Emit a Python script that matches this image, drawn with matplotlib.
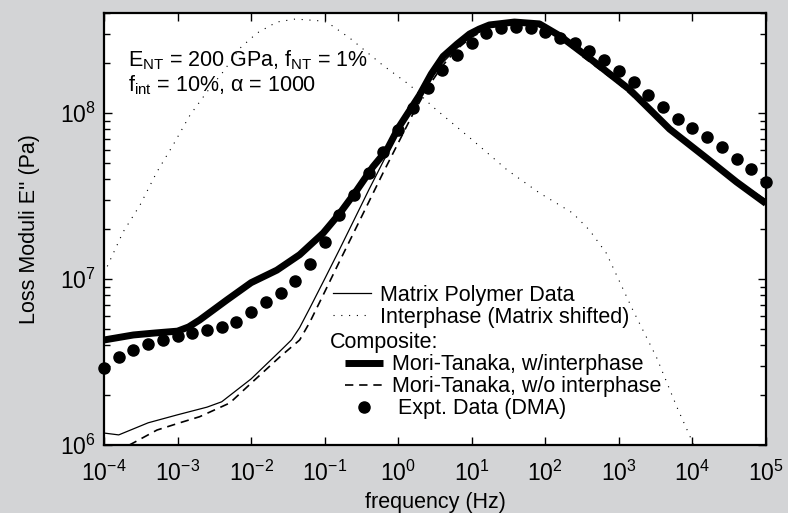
import numpy as np
import matplotlib.pyplot as plt
from matplotlib import ticker
from matplotlib.lines import Line2D

plt.rcParams["font.family"] = ["Liberation Sans", "DejaVu Sans"]
plt.rcParams["mathtext.fontset"] = "custom"
plt.rcParams["mathtext.rm"] = "Liberation Sans"
plt.rcParams["mathtext.it"] = "Liberation Sans:italic"
plt.rcParams["mathtext.bf"] = "Liberation Sans:bold"

FS = 15.5      # text / legend
TFS = 16.5     # tick labels

# ------------------------------------------------------------
# data (log10 of frequency in Hz, loss modulus in Pa)
# ------------------------------------------------------------
matrix_logf = [-4.0, -3.8, -3.4, -3.0, -2.6, -2.4, -2.0, -1.6, -1.45, -1.34, -1.2, -1.0,
               -0.8, -0.6, -0.4, -0.2, 0.0, 0.2, 0.4, 0.6, 0.8, 1.0, 1.3, 1.6,
               1.9, 2.2, 2.5, 3.0, 3.5, 4.0, 4.5, 5.0]
matrix_E = [1.18e6, 1.15e6, 1.36e6, 1.52e6, 1.69e6, 1.82e6, 2.5e6, 3.7e6, 4.3e6, 5.1e6, 6.7e6, 1.0e7,
            1.5e7, 2.27e7, 3.44e7, 5.14e7, 7.6e7, 1.1e8, 1.5e8, 2.0e8, 2.46e8, 2.91e8, 3.39e8, 3.58e8,
            3.53e8, 2.99e8, 2.24e8, 1.54e8, 9.7e7, 6.3e7, 4.2e7, 3.0e7]

interphase_logf = [-4.0, -3.74, -3.51, -3.28, -3.06, -2.83, -2.6, -2.38, -2.15, -1.92,
                   -1.65, -1.4, -1.1, -0.97, -0.66, -0.21, 0.16, 0.47, 1.01, 1.48,
                   1.92, 2.37, 2.6, 2.83, 3.19, 3.51, 3.79, 3.99, 4.1]
interphase_E = [1.08e7, 1.92e7, 2.79e7, 4.42e7, 6.42e7, 9.72e7, 1.34e8, 1.77e8, 2.46e8, 3.03e8,
                3.53e8, 3.68e8, 3.6e8, 3.53e8, 2.83e8, 1.94e8, 1.47e8, 1.09e8, 6.87e7, 4.54e7,
                3.3e7, 2.5e7, 1.97e7, 1.43e7, 6.5e6, 3.39e6, 1.69e6, 1.07e6, 8.0e5]

mt_int_logf = [-4.0, -3.6, -3.3, -3.0, -2.85, -2.7, -2.33, -2.0, -1.65, -1.34, -1.02, -0.79, -0.56,
               -0.345, -0.155, 0.0, 0.29, 0.45, 0.61, 0.8, 0.97, 1.1, 1.24, 1.58, 1.92, 2.2, 2.6, 3.15,
               3.69, 4.19, 4.6, 5.0]
mt_int_E = [4.29e6, 4.6e6, 4.73e6, 4.85e6, 5.14e6, 5.66e6, 7.47e6, 9.5e6, 1.13e7, 1.4e7, 1.89e7, 2.5e7, 3.44e7,
            4.73e7, 5.98e7, 8.1e7, 1.28e8, 1.72e8, 2.19e8, 2.6e8, 2.99e8, 3.2e8, 3.39e8, 3.53e8, 3.44e8, 2.91e8,
            2.14e8, 1.38e8, 8.0e7, 5.36e7, 3.84e7, 2.85e7]

mt_noint_logf = [-4.0, -3.6, -3.28, -2.97, -2.7, -2.29, -1.98, -1.61, -1.34, -1.2, -1.0,
                 -0.8, -0.6, -0.4, -0.2, 0.0, 0.2, 0.4, 0.6, 0.8, 1.0, 1.3, 1.6,
                 1.9, 2.2, 2.5, 3.0, 3.5, 4.0, 4.5, 5.0]
mt_noint_E = [8.3e5, 1.03e6, 1.23e6, 1.36e6, 1.48e6, 1.79e6, 2.4e6, 3.39e6, 4.29e6, 5.51e6, 8.35e6,
              1.27e7, 1.92e7, 2.91e7, 4.41e7, 6.59e7, 9.86e7, 1.42e8, 1.92e8, 2.43e8, 2.87e8, 3.35e8, 3.53e8,
              3.5e8, 2.95e8, 2.2e8, 1.5e8, 9.5e7, 6.2e7, 4.1e7, 2.9e7]

expt_logf = [-4.0, -3.8, -3.6, -3.4, -3.2, -3.0, -2.8, -2.6, -2.4, -2.2,
             -2.0, -1.8, -1.6, -1.4, -1.2, -1.0, -0.8, -0.6, -0.4, -0.2,
             0.0, 0.2, 0.4, 0.6, 0.8, 1.0, 1.2, 1.4, 1.6, 1.8,
             2.0, 2.2, 2.4, 2.6, 2.8, 3.0, 3.2, 3.4, 3.6, 3.8,
             4.0, 4.2, 4.4, 4.6, 4.8, 5.0]
expt_E = [2.91e6, 3.39e6, 3.73e6, 4.06e6, 4.29e6, 4.54e6, 4.73e6, 4.93e6, 5.14e6, 5.51e6,
          6.32e6, 7.27e6, 8.24e6, 9.72e6, 1.23e7, 1.67e7, 2.43e7, 3.21e7, 4.35e7, 5.82e7,
          7.9e7, 1.07e8, 1.42e8, 1.82e8, 2.24e8, 2.64e8, 3.03e8, 3.25e8, 3.3e8, 3.25e8,
          3.08e8, 2.83e8, 2.64e8, 2.36e8, 2.08e8, 1.79e8, 1.54e8, 1.28e8, 1.09e8, 9.2e7,
          8.13e7, 7.17e7, 6.24e7, 5.29e7, 4.6e7, 3.84e7]

x_ticks = [1e-4, 1e-3, 1e-2, 1e-1, 1e0, 1e1, 1e2, 1e3, 1e4, 1e5]
y_ticks = [1e6, 1e7, 1e8]


def hz(logf):
    return 10.0 ** np.asarray(logf)


# ------------------------------------------------------------
# figure
# ------------------------------------------------------------
fig = plt.figure(figsize=(7.88, 5.13), dpi=100, facecolor="#d3d4d6")
ax = fig.add_axes([0.132, 0.1326, 0.840, 0.842])
ax.set_facecolor("white")

ax.plot(hz(interphase_logf), interphase_E, color="black", lw=0.8,
        linestyle=(0, (1, 6)))
ax.plot(hz(matrix_logf), matrix_E, color="black", lw=0.9)
ax.plot(hz(mt_noint_logf), mt_noint_E, color="black", lw=1.2,
        linestyle=(0, (5, 3.5)))
ax.plot(hz(mt_int_logf), mt_int_E, color="black", lw=5, solid_capstyle="butt",
        solid_joinstyle="round")
ax.plot(hz(expt_logf), expt_E, "o", color="black", ms=8, clip_on=False)

ax.set_xscale("log")
ax.set_yscale("log")
ax.set_xlim(1e-4, 1e5)
ax.set_ylim(1e6, 4e8)

ax.set_xticks(x_ticks)
ax.xaxis.set_minor_locator(ticker.NullLocator())
ax.set_yticks(y_ticks)
ax.yaxis.set_minor_locator(ticker.LogLocator(base=10, subs=np.arange(2, 10)))
ax.yaxis.set_minor_formatter(ticker.NullFormatter())

ax.tick_params(which="both", direction="in", top=True, right=True,
               labelsize=TFS, width=1.0)
ax.tick_params(which="major", length=6)
ax.tick_params(which="minor", length=4)
ax.tick_params(axis="x", pad=11)
ax.tick_params(axis="y", pad=6)
for s in ax.spines.values():
    s.set_linewidth(1.6)

ax.set_xlabel("frequency (Hz)", fontsize=FS, labelpad=5)
ax.set_ylabel("Loss Moduli E'' (Pa)", fontsize=FS, labelpad=14)

ax.text(0.036, 0.877, r"E$_{\rm NT}$ = 200 GPa, f$_{\rm NT}$ = 1%",
        transform=ax.transAxes, fontsize=FS, va="baseline")
ax.text(0.036, 0.818, r"f$_{\rm int}$ = 10%, α = 1000",
        transform=ax.transAxes, fontsize=FS, va="baseline")

# legends
h1 = [Line2D([], [], color="black", lw=0.9),
      Line2D([], [], color="black", lw=0.8, linestyle=(0, (1, 6)))]
leg1 = ax.legend(h1, ["Matrix Polymer Data", "Interphase (Matrix shifted)"],
                 loc="upper left", bbox_to_anchor=(0.346, 0.371), frameon=False,
                 fontsize=FS, borderpad=0, borderaxespad=0, handlelength=1.75,
                 handletextpad=0.45, labelspacing=0.05)
ax.add_artist(leg1)

ax.text(0.341, 0.238, "Composite:", transform=ax.transAxes, fontsize=FS,
        va="center")

h2 = [Line2D([], [], color="black", lw=5, solid_capstyle="butt"),
      Line2D([], [], color="black", lw=1.2, linestyle=(0, (5, 3.5))),
      Line2D([], [], color="black", marker="o", ms=8, linestyle="none")]
ax.legend(h2, ["Mori-Tanaka, w/interphase", "Mori-Tanaka, w/o interphase",
               " Expt. Data (DMA)"],
          loc="upper left", bbox_to_anchor=(0.364, 0.210), frameon=False,
          fontsize=FS, borderpad=0, borderaxespad=0, handlelength=1.75,
          handletextpad=0.45, labelspacing=0.05)

fig.savefig("out.png", dpi=100, facecolor=fig.get_facecolor())
